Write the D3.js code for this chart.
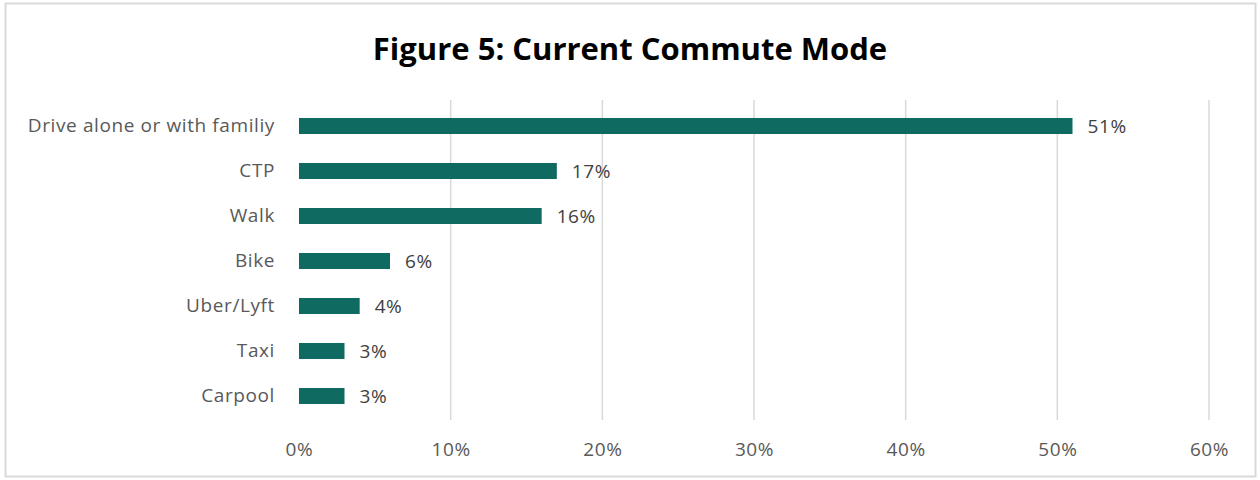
<!DOCTYPE html>
<html>
<head>
<meta charset="utf-8">
<script src="https://cdn.jsdelivr.net/npm/d3@7"></script>
<style>
  html, body { margin: 0; padding: 0; background: #fff; }
  svg { display: block; }
</style>
</head>
<body>
<svg id="chart" width="1260" height="480"></svg>
<script>
// Commute mode shares (percent)
const categories = ["Drive alone or with familiy", "CTP", "Walk", "Bike", "Uber/Lyft", "Taxi", "Carpool"];
const shares = [51, 17, 16, 6, 4, 3, 3];
const tickValues = [0, 10, 20, 30, 40, 50, 60];
const tickLabels = ["0%", "10%", "20%", "30%", "40%", "50%", "60%"];

const svg = d3.select("#chart");
const font = "Open Sans, Lato, sans-serif";
const labelSize = 19;
const labelSpacing = 0.6;

// chart frame
svg.append("rect")
  .attr("x", 5.5).attr("y", 3.5)
  .attr("width", 1250).attr("height", 473)
  .attr("fill", "#fff")
  .attr("stroke", "#d9d9d9").attr("stroke-width", 2);

// title
svg.append("text")
  .attr("x", 630).attr("y", 60)
  .attr("text-anchor", "middle")
  .attr("font-family", font)
  .attr("font-weight", "bold")
  .attr("font-size", 31)
  .attr("fill", "#000")
  .text("Figure 5: Current Commute Mode");

const x = d3.scaleLinear().domain([0, 60]).range([299, 1209]);
const y = d3.scaleBand().domain(categories)
  .range([103.5, 418.5])
  .paddingInner(0.644).paddingOuter(0.322);

// vertical gridlines
svg.append("g")
  .selectAll("line")
  .data(tickValues.filter(v => v > 0))
  .join("line")
  .attr("x1", d => x(d)).attr("x2", d => x(d))
  .attr("y1", 100).attr("y2", 420)
  .attr("stroke", "#d9d9d9").attr("stroke-width", 1.5);

// x-axis tick labels
const xAxis = d3.axisBottom(x)
  .tickValues(tickValues)
  .tickFormat((d, i) => tickLabels[i])
  .tickSize(0).tickPadding(0);
const gx = svg.append("g").attr("transform", "translate(0,442)").call(xAxis);
gx.select(".domain").remove();
gx.selectAll("text")
  .attr("font-family", font).attr("font-size", labelSize)
  .attr("letter-spacing", labelSpacing)
  .attr("fill", "#595959").attr("dy", "0.71em");

// y-axis category labels
const yAxis = d3.axisLeft(y).tickSize(0).tickPadding(0);
const gy = svg.append("g").attr("transform", "translate(275,0)").call(yAxis);
gy.select(".domain").remove();
gy.selectAll("text")
  .attr("font-family", font).attr("font-size", labelSize)
  .attr("letter-spacing", labelSpacing)
  .attr("fill", "#595959");

// bars
svg.append("g")
  .selectAll("rect")
  .data(categories)
  .join("rect")
  .attr("x", x(0))
  .attr("y", d => y(d))
  .attr("width", (d, i) => x(shares[i]) - x(0))
  .attr("height", y.bandwidth())
  .attr("fill", "#0f6b61");

// value labels
svg.append("g")
  .selectAll("text")
  .data(categories)
  .join("text")
  .attr("x", (d, i) => x(shares[i]) + 15)
  .attr("y", d => y(d) + y.bandwidth() / 2)
  .attr("dy", "0.35em")
  .attr("font-family", font).attr("font-size", labelSize)
  .attr("letter-spacing", labelSpacing)
  .attr("fill", "#404040")
  .text((d, i) => shares[i] + "%");
</script>
</body>
</html>
